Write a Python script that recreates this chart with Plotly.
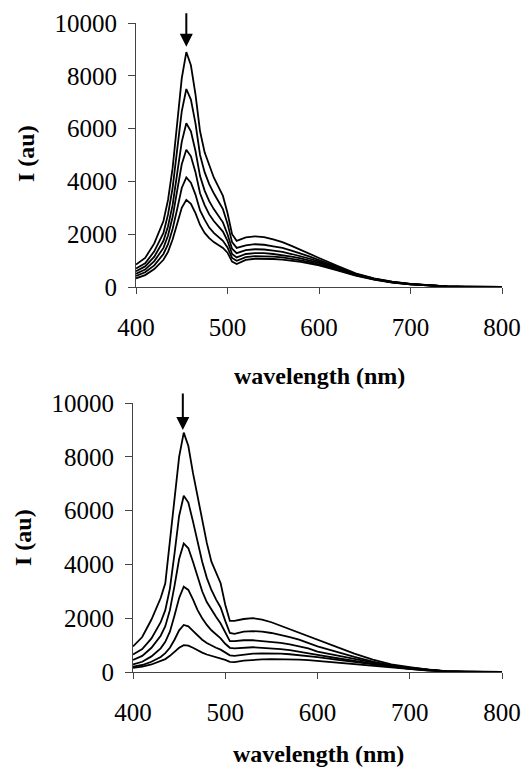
import plotly.graph_objects as go

wavelength = [400, 410, 420, 430, 435, 440, 445, 450, 455, 460, 465, 470, 475, 480, 485, 490, 495,
              500, 505, 510, 520, 530, 540, 550, 560, 570, 580, 590, 600, 620, 640, 660, 680, 700,
              720, 740, 760, 780, 800]

# top panel spectra
top_1 = [850, 1100, 1650, 2500, 3300, 4500, 6200, 7900, 8900, 8400, 7300, 5900, 5100, 4600, 4150, 3800, 3450,
         2800, 2000, 1750, 1880, 1920, 1890, 1800, 1700, 1560, 1400, 1250, 1100, 800, 520, 330, 200, 120,
         60, 25, 10, 5, 0]
top_2 = [700, 900, 1350, 2050, 2750, 3750, 5200, 6650, 7500, 7100, 6200, 5000, 4350, 3900, 3550, 3250, 2950,
         2400, 1700, 1480, 1580, 1620, 1600, 1540, 1480, 1380, 1270, 1150, 1020, 760, 500, 320, 190, 115,
         55, 22, 10, 5, 0]
top_3 = [600, 780, 1150, 1750, 2300, 3100, 4300, 5500, 6200, 5900, 5150, 4200, 3650, 3250, 2950, 2700, 2450,
         2000, 1450, 1280, 1400, 1430, 1420, 1380, 1330, 1250, 1170, 1070, 960, 720, 480, 310, 185, 110,
         55, 22, 10, 5, 0]
top_4 = [500, 660, 980, 1480, 1950, 2650, 3650, 4650, 5200, 4950, 4350, 3550, 3100, 2750, 2500, 2300, 2100,
         1750, 1250, 1120, 1250, 1280, 1280, 1250, 1210, 1150, 1080, 1000, 910, 690, 460, 300, 180, 105,
         50, 20, 8, 4, 0]
top_5 = [420, 560, 820, 1250, 1620, 2200, 2950, 3750, 4150, 3950, 3500, 2900, 2550, 2250, 2050, 1900, 1750,
         1500, 1100, 990, 1130, 1170, 1170, 1150, 1120, 1070, 1010, 940, 860, 660, 445, 290, 175, 100,
         50, 20, 8, 4, 0]
top_6 = [330, 450, 680, 1030, 1330, 1800, 2400, 3000, 3300, 3150, 2800, 2350, 2050, 1850, 1700, 1580, 1480,
         1300, 960, 870, 1030, 1070, 1070, 1060, 1040, 1000, 950, 890, 820, 630, 430, 280, 170, 100,
         50, 20, 8, 4, 0]

# bottom panel spectra
bot_1 = [950, 1300, 1950, 2750, 3300, 4900, 6500, 8000, 8900, 8400, 7400, 6500, 5600, 4800, 4100, 3700, 3300,
         2500, 1900, 1900, 1970, 2000, 1950, 1850, 1720, 1600, 1450, 1320, 1190, 920, 680, 460, 280, 180,
         90, 30, 10, 5, 0]
bot_2 = [650, 850, 1250, 1850, 2300, 3100, 4400, 5800, 6550, 6300, 5600, 4800, 4100, 3500, 3050, 2700, 2400,
         1900, 1450, 1420, 1500, 1520, 1500, 1450, 1380, 1300, 1200, 1080, 950, 760, 560, 390, 250, 160,
         80, 25, 10, 5, 0]
bot_3 = [450, 600, 900, 1350, 1700, 2300, 3200, 4200, 4780, 4600, 4100, 3500, 3000, 2600, 2300, 2050, 1800,
         1450, 1150, 1150, 1180, 1180, 1150, 1120, 1080, 1030, 960, 880, 760, 620, 480, 340, 220, 140,
         70, 22, 8, 4, 0]
bot_4 = [280, 380, 580, 880, 1120, 1500, 2100, 2750, 3170, 3050, 2700, 2300, 2000, 1750, 1550, 1400, 1250,
         1050, 900, 880, 900, 920, 900, 880, 850, 810, 760, 700, 640, 520, 410, 300, 200, 130,
         65, 20, 8, 4, 0]
bot_5 = [200, 260, 380, 560, 700, 900, 1200, 1550, 1750, 1700, 1530, 1350, 1200, 1080, 980, 900, 830,
         720, 620, 600, 650, 680, 690, 690, 680, 660, 630, 590, 550, 460, 370, 280, 190, 120,
         60, 20, 8, 4, 0]
bot_6 = [150, 200, 280, 400, 480, 600, 750, 900, 1000, 980, 900, 800, 720, 650, 600, 560, 520,
         450, 380, 370, 420, 450, 470, 480, 480, 470, 460, 440, 410, 360, 310, 250, 180, 110,
         55, 18, 8, 4, 0]

x_ticks = [400, 500, 600, 700, 800]
x_labels = ["400", "500", "600", "700", "800"]
y_ticks = [0, 2000, 4000, 6000, 8000, 10000]
y_labels = ["0", "2000", "4000", "6000", "8000", "10000"]

top_series = [top_1, top_2, top_3, top_4, top_5, top_6]
bot_series = [bot_1, bot_2, bot_3, bot_4, bot_5, bot_6]

fig = go.Figure()
for s in top_series:
    fig.add_trace(go.Scatter(x=wavelength, y=s, mode="lines", line=dict(color="black", width=1.8),
                             xaxis="x", yaxis="y", showlegend=False))
for s in bot_series:
    fig.add_trace(go.Scatter(x=wavelength, y=s, mode="lines", line=dict(color="black", width=1.8),
                             xaxis="x2", yaxis="y2", showlegend=False))

SERIF = "Times New Roman, Liberation Serif, DejaVu Serif, serif"
tick_font = dict(family=SERIF, size=25, color="black")
title_font = dict(family=SERIF, size=24, color="black")

def xa(domain, anchor):
    return dict(domain=domain, anchor=anchor, range=[400, 800], tickvals=x_ticks, ticktext=x_labels,
                ticks="outside", ticklen=6, tickcolor="#444", showline=True, linecolor="#444",
                linewidth=1, showgrid=False, zeroline=False, tickfont=tick_font,
                ticklabelstandoff=12, automargin=False)

def ya(domain, anchor):
    return dict(domain=domain, anchor=anchor, range=[0, 10000], tickvals=y_ticks, ticktext=y_labels,
                ticks="outside", ticklen=7, tickcolor="#444", showline=True, linecolor="#444",
                linewidth=1, showgrid=False, zeroline=False, tickfont=tick_font,
                ticklabelstandoff=6, automargin=False)

fig.update_layout(
    width=526, height=770, autosize=False,
    margin=dict(l=0, r=0, t=0, b=0, autoexpand=False),
    paper_bgcolor="white", plot_bgcolor="white",
    font=dict(family=SERIF),
    xaxis=xa([136 / 526, 502 / 526], "y"),
    yaxis=ya([1 - 287 / 770, 1 - 23 / 770], "x"),
    xaxis2=xa([133 / 526, 502 / 526], "y2"),
    yaxis2=ya([1 - 672 / 770, 1 - 403 / 770], "x2"),
)

annotations = [
    dict(text="<b>wavelength (nm)</b>", xref="paper", yref="paper", x=319 / 526, y=1 - 376 / 770,
         showarrow=False, font=title_font, xanchor="center", yanchor="middle"),
    dict(text="<b>wavelength (nm)</b>", xref="paper", yref="paper", x=318 / 526, y=1 - 754 / 770,
         showarrow=False, font=title_font, xanchor="center", yanchor="middle"),
    dict(text="<b>I (au)</b>", xref="paper", yref="paper", x=26 / 526, y=1 - 154 / 770,
         showarrow=False, font=title_font, textangle=-90, xanchor="center", yanchor="middle"),
    dict(text="<b>I (au)</b>", xref="paper", yref="paper", x=23 / 526, y=1 - 538 / 770,
         showarrow=False, font=title_font, textangle=-90, xanchor="center", yanchor="middle"),
    dict(text="", xref="x", yref="y", x=455, y=9100, ax=0, ay=-35, showarrow=True,
         arrowhead=2, arrowwidth=2, arrowsize=1.3, arrowcolor="black"),
    dict(text="", xref="x2", yref="y2", x=454, y=9000, ax=0, ay=-38, showarrow=True,
         arrowhead=2, arrowwidth=2, arrowsize=1.3, arrowcolor="black"),
]
fig.update_layout(annotations=annotations)

fig.write_html("out.html", config={"displayModeBar": False},
               post_script="document.body.style.margin='0';document.body.style.overflow='hidden';")
